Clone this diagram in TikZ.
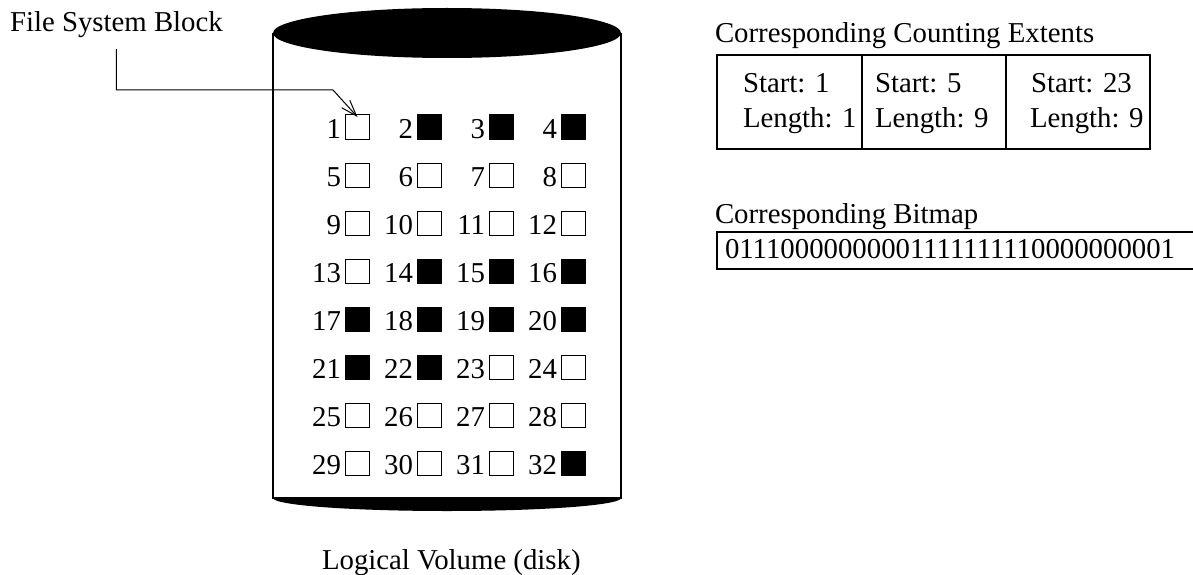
\documentclass[tikz,border=0pt]{standalone}
\usepackage{fontspec}
\setmainfont{Liberation Serif}
\usetikzlibrary{arrows.meta}
\begin{document}
\begin{tikzpicture}[x=1pt,y=-1pt,
  every node/.style={inner sep=0pt, outer sep=0pt, font=\fontsize{28.8}{34}\selectfont},
  label/.style={anchor=base west},
  blk/.style={draw, line width=1pt, minimum size=24pt, fill=white},
  used/.style={blk, fill=black},
  num/.style={anchor=base east},
  cell/.style={draw, line width=1.1pt, anchor=north west, minimum height=94pt},
  lin/.style={line width=1.2pt}]
\useasboundingbox (0,0) rectangle (1193,575);

% disk: top cap, sides and bottom rim
\fill (447,33) ellipse [x radius=174, y radius=25];
\fill (273,498) arc [start angle=180, end angle=0, x radius=174, y radius=13] -- cycle;
\draw[lin] (273,33) -- (273,498) -- (621,498) -- (621,33);

% blocks of the volume
\foreach \r in {0,...,7} {
  \foreach \c in {0,...,3} {
    \pgfmathtruncatemacro{\n}{4*\r+\c+1}
    \def\sty{blk}
    \ifnum\n=2 \def\sty{used}\fi
    \ifnum\n=3 \def\sty{used}\fi
    \ifnum\n=4 \def\sty{used}\fi
    \ifnum\n>13 \ifnum\n<23 \def\sty{used}\fi\fi
    \ifnum\n=32 \def\sty{used}\fi
    \node[\sty] (sq\n) at (357.5+72*\c, 127+48*\r) {};
    \node[num] (n\n) at (341+72*\c, 138.5+48*\r) {\n};
  }
}

% pointer to block 1
\node[label] (fsb) at (10,32) {File System Block};
\coordinate (bend) at (333,90);
\draw[line width=1pt, -{Straight Barb[length=16pt,width=11pt,line width=1pt]}]
  ([yshift=-11pt]fsb.south) |- (bend) -- ([yshift=-2pt]sq1.north);

\node[label] (vol) at (322,569) {Logical Volume (disk)};

% counting extents table
\node[label] (cext) at (715,43) {Corresponding Counting Extents};
\node[cell, minimum width=145pt] (e1) at (717,55) {};
\node[cell, minimum width=144pt] (e2) at (862,55) {};
\node[cell, minimum width=144pt] (e3) at (1006,55) {};
\node[label] (s1) at (743,93) {Start: 1};
\node[label] (l1) at (743,128) {Length: 1};
\node[label] (s2) at (875,93) {Start: 5};
\node[label] (l2) at (875,128) {Length: 9};
\node[label] (s3) at (1031,93) {Start: 23};
\node[label] (l3) at (1030,128) {Length: 9};

% bitmap
\node[label] (cbm) at (715,223) {Corresponding Bitmap};
\node[draw, line width=1.1pt, anchor=north west, minimum width=490pt, minimum height=37pt] (bm) at (717,232) {};
\node[label] (bits) at (725,258) {01110000000001111111110000000001};
\end{tikzpicture}
\end{document}
